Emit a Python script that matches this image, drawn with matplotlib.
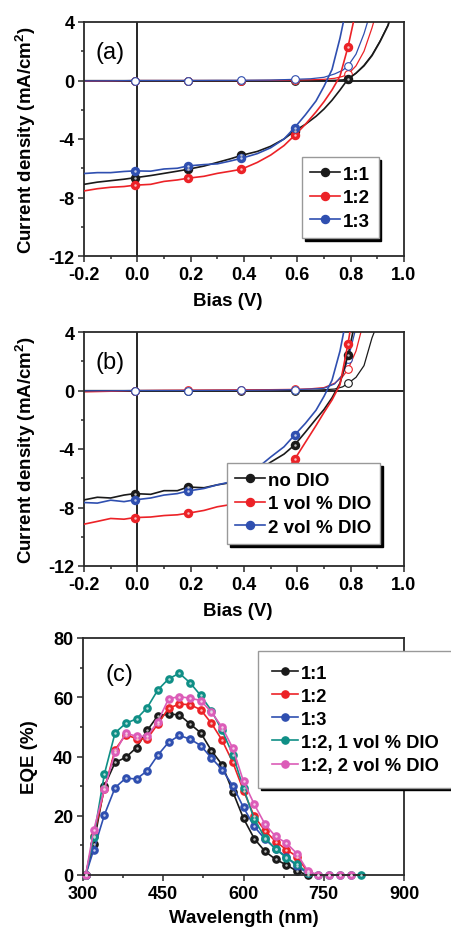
import numpy as np
import matplotlib
matplotlib.use("Agg")
import matplotlib.pyplot as plt
from matplotlib.ticker import MultipleLocator
from matplotlib.colors import to_rgb

plt.rcParams['font.family'] = ['Liberation Sans', 'DejaVu Sans']
plt.rcParams['mathtext.fontset'] = 'custom'
plt.rcParams['mathtext.rm'] = 'Liberation Sans'
plt.rcParams['mathtext.bf'] = 'Liberation Sans:bold'

# ---------------- data ----------------
# (a) J-V under illumination
V_light = [-0.2, -0.15, -0.1, -0.05, -0.01, 0.05, 0.1, 0.15, 0.19, 0.25, 0.3, 0.35, 0.39,
           0.45, 0.5, 0.55, 0.59, 0.63, 0.67, 0.7, 0.73, 0.76, 0.79, 0.82, 0.85, 0.88,
           0.91, 0.94, 0.97]
light_markers = [4, 8, 12, 16, 22]
a_11 = [-7.1, -6.95, -6.85, -6.75, -6.65, -6.5, -6.35, -6.2, -6.07, -5.85, -5.6, -5.35, -5.12,
        -4.85, -4.5, -4.0, -3.45, -3.0, -2.45, -1.95, -1.35, -0.65, 0.1, 0.5, 1.0, 1.7,
        2.65, 3.75, 5.5]
a_12 = [-7.55, -7.4, -7.3, -7.25, -7.16, -7.1, -6.9, -6.8, -6.68, -6.55, -6.35, -6.2, -6.07,
        -5.6, -5.1, -4.45, -3.75, -3.0, -2.15, -1.45, -0.65, 0.3, 2.3, 4.8, 8.0, 11.0,
        14.0, 17.0, 20.0]
a_13 = [-6.36, -6.3, -6.3, -6.22, -6.18, -6.2, -6.05, -6.0, -5.84, -5.75, -5.7, -5.5, -5.32,
        -5.0, -4.6, -4.0, -3.22, -2.35, -1.4, -0.4, 0.75, 2.9, 5.5, 8.0, 11.0, 14.0,
        17.0, 20.0, 23.0]
# (a) J-V in dark
V_dark = [-0.2, -0.1, -0.01, 0.1, 0.19, 0.3, 0.39, 0.5, 0.59, 0.65, 0.7, 0.74, 0.77, 0.79,
          0.82, 0.85, 0.88, 0.91, 0.94, 0.97]
dark_markers = [2, 4, 6, 8, 13]
a_11_dark = [0, 0, 0, 0, 0, 0, 0, 0, 0, 0, 0, 0.02, 0.05, 0.1, 0.5, 1.05, 1.75, 2.7, 3.8, 5.5]
a_12_dark = [-0.05, -0.03, 0, 0, 0, 0, 0, 0.01, 0.03, 0.05, 0.08, 0.15, 0.28, 0.42, 1.0, 2.0,
             3.6, 5.5, 8.0, 10.0]
a_13_dark = [-0.03, -0.02, 0, 0, 0, 0.01, 0.01, 0.03, 0.08, 0.12, 0.22, 0.45, 0.7, 1.0, 1.8,
             3.2, 5.0, 7.0, 9.0, 11.0]

# (b) J-V under illumination
b_no = [-7.48, -7.3, -7.35, -7.15, -7.05, -7.1, -6.85, -6.85, -6.6, -6.65, -6.45, -6.3, -6.1,
        -5.55, -4.9, -4.35, -3.72, -2.85, -1.95, -1.3, -0.5, 0.5, 2.4, 5.0, 8.0, 11.0,
        14.0, 17.0, 20.0]
b_1 = [-9.14, -8.95, -8.75, -8.8, -8.69, -8.65, -8.55, -8.5, -8.39, -8.2, -7.95, -7.8, -7.6,
       -7.2, -6.6, -5.7, -4.7, -3.55, -2.4, -1.5, -0.65, 0.4, 3.2, 6.5, 9.0, 12.0,
       15.0, 18.0, 21.0]
b_2 = [-7.66, -7.7, -7.5, -7.6, -7.48, -7.35, -7.15, -7.05, -6.87, -6.7, -6.45, -6.25, -5.85,
       -5.3, -4.55, -3.85, -3.04, -2.25, -1.35, -0.4, 0.7, 2.7, 5.5, 8.0, 11.0, 14.0,
       17.0, 20.0, 23.0]
# (b) J-V in dark
b_no_dark = [0, 0, 0, 0, 0, 0, 0, 0, 0, 0.02, 0.05, 0.1, 0.25, 0.49, 0.9, 1.7, 3.6, 5.0, 7.0, 9.0]
b_1_dark = [-0.1, -0.06, 0, 0.02, 0.03, 0.04, 0.05, 0.06, 0.08, 0.12, 0.2, 0.5, 0.95, 1.45,
            2.7, 4.8, 7.0, 9.0, 11.0, 13.0]
b_2_dark = [-0.02, -0.02, 0, 0, 0, 0.01, 0.01, 0.03, 0.06, 0.1, 0.15, 0.45, 1.1, 2.13, 4.3,
            7.0, 10.0, 12.0, 14.0, 16.0]

# (c) EQE
wavelength = [305, 320, 340, 360, 380, 400, 420, 440, 460, 480, 500, 520, 540, 560, 580,
              600, 620, 640, 660, 680, 700, 720, 740, 760, 780, 800, 820]
eqe_11 = [0, 10.4, 30, 38, 39.7, 43, 48.8, 53.8, 54.3, 54.1, 51, 48, 42, 37.2, 28.1, 19.1,
          12.3, 8.0, 5.3, 3.4, 1.3, 0]
eqe_12 = [0, 13, 29, 42.3, 47.4, 46, 46, 51, 56.3, 57.7, 57.5, 55.8, 51.2, 45.5, 38, 28.5,
          19.8, 15.0, 11.3, 8.6, 6.2, 1.0]
eqe_13 = [0, 8.5, 20.3, 29.5, 32.7, 32.4, 35.2, 40.5, 44.8, 47.1, 45.9, 43.7, 39.5, 35.6, 30.1,
          22.8, 16.4, 12.1, 8.9, 6.1, 3.0, 0.6]
eqe_12_1 = [0, 12.7, 34.1, 48, 51.2, 52.7, 56.5, 62.5, 66.2, 68.1, 64.9, 60.6, 55.5, 48.8, 40.6,
            29.3, 18.9, 12.6, 8.7, 5.9, 3.6, 0.8, 0, 0, 0, 0, 0]
eqe_12_2 = [0, 15.1, 29, 41.4, 47.9, 46.8, 46.8, 51.8, 59.5, 60.2, 59.7, 58.9, 55, 49.9, 42.8,
            31.6, 23.9, 17.2, 13.0, 10.8, 7.2, 1.4, 0, 0, 0, 0]

# ---------------- style ----------------
BLACK = '#1a1a1a'
RED = '#ec2227'
BLUE = '#2f4fb0'
TEAL = '#0f8f86'
PINK = '#dc5cb8'
BOLD = dict(family='Liberation Sans', weight='bold')
TICK_FS = 13
LABEL_FS = 13.5

W, H = 452, 929
fig = plt.figure(figsize=(W / 100, H / 100), dpi=100)


def lighten(c, f=0.6):
    r, g, b = to_rgb(c)
    return (r + (1 - r) * f, g + (1 - g) * f, b + (1 - b) * f)


def frac_rect(l, t, r, b):
    return [l / W, 1 - b / H, (r - l) / W, (b - t) / H]


def style_axes(ax):
    for s in ax.spines.values():
        s.set_linewidth(1.3)
        s.set_color('#2a2a2a')
    ax.tick_params(which='both', direction='out', top=False, right=False, width=1.1,
                   color='#2a2a2a', pad=3)
    ax.tick_params(which='major', length=4)
    ax.tick_params(which='minor', length=2.5)
    for lab in ax.get_xticklabels() + ax.get_yticklabels():
        lab.set_fontweight('bold')
        lab.set_fontsize(TICK_FS)
        lab.set_family('Liberation Sans')


def highlight(ax, x, y, c, idx=None, z=4, clip=True):
    xs = np.asarray(x, float)
    ys = np.asarray(y, float)
    if idx is not None:
        xs, ys = xs[idx], ys[idx]
    ax.plot(xs, ys, ls='none', marker='o', ms=1.8, mfc=lighten(c, 0.7), mec='none',
            zorder=z, clip_on=clip)


def jv_panel(ax, light, dark, colors, labels, tag, xlab_x):
    ax.axhline(0, color='black', lw=1.2, zorder=1.5)
    ax.axvline(0, color='black', lw=1.2, zorder=1.5)
    for y, c in zip(dark, colors):
        ax.plot(V_dark, y, color=c, lw=0.9, marker='o', ms=5.5, mfc='white', mec=c, mew=0.8,
                markevery=dark_markers, zorder=2)
    handles = []
    for y, c, lab in zip(light, colors, labels):
        h, = ax.plot(V_light, y, color=c, lw=1.2, marker='o', ms=5.8, mfc=c, mec=c,
                     markevery=light_markers, zorder=3, label=lab)
        handles.append(h)
        highlight(ax, V_light, y, c, light_markers)
    ax.set_xlim(-0.2, 1.0)
    ax.set_ylim(-12, 4)
    ax.xaxis.set_minor_locator(MultipleLocator(0.1))
    ax.yaxis.set_minor_locator(MultipleLocator(2))
    ax.set_xticks([-0.2, 0.0, 0.2, 0.4, 0.6, 0.8, 1.0])
    ax.set_xticklabels(['-0.2', '0.0', '0.2', '0.4', '0.6', '0.8', '1.0'])
    ax.set_yticks([-12, -8, -4, 0, 4])
    ax.set_yticklabels(['-12', '-8', '-4', '0', '4'])
    ax.set_xlabel('Bias (V)', fontsize=LABEL_FS, labelpad=7, x=xlab_x, **BOLD)
    ax.set_ylabel(r'Current density (mA/cm$^{\mathbf{2}}$)', fontsize=LABEL_FS, labelpad=7,
                  **BOLD)
    ax.text(0.035, 0.87, tag, transform=ax.transAxes, fontsize=17, family='Liberation Sans',
            ha='left', va='center')
    style_axes(ax)
    return handles


def add_legend(ax, handles, l, t, fs=13.5, hl=1.6, spacing=0.35, bpad=0.45):
    leg = ax.legend(handles=handles, loc='upper left', bbox_to_anchor=(l / W, 1 - t / H),
                    bbox_transform=fig.transFigure, borderaxespad=0, fancybox=False,
                    shadow={'color': 'black', 'alpha': 1}, framealpha=1,
                    edgecolor='#999999', prop=dict(family='Liberation Sans', weight='bold',
                                                    size=fs),
                    handlelength=hl, handletextpad=0.15, labelspacing=spacing,
                    borderpad=bpad)
    leg.get_frame().set_linewidth(1.0)
    leg.set_zorder(10)
    return leg


axA = fig.add_axes(frac_rect(84, 23, 404, 257))
hA = jv_panel(axA, [a_11, a_12, a_13], [a_11_dark, a_12_dark, a_13_dark],
              [BLACK, RED, BLUE], ['1:1', '1:2', '1:3'], '(a)', 0.45)
add_legend(axA, hA, 302, 158)

axB = fig.add_axes(frac_rect(84, 333, 404, 567))
hB = jv_panel(axB, [b_no, b_1, b_2], [b_no_dark, b_1_dark, b_2_dark],
              [BLACK, RED, BLUE], ['no DIO', '1 vol % DIO', '2 vol % DIO'], '(b)', 0.48)
add_legend(axB, hB, 227, 464)

axC = fig.add_axes(frac_rect(83, 639, 404, 876))
hC = []
for y, c, lab in zip([eqe_11, eqe_12, eqe_13, eqe_12_1, eqe_12_2],
                     [BLACK, RED, BLUE, TEAL, PINK],
                     ['1:1', '1:2', '1:3', '1:2, 1 vol % DIO', '1:2, 2 vol % DIO']):
    xs = wavelength[:len(y)]
    h, = axC.plot(xs, y, color=c, lw=1.2, marker='o', ms=5.2, mfc=c, mec=c,
                  label=lab, clip_on=False)
    hC.append(h)
    highlight(axC, xs, y, c, clip=False)
axC.set_xlim(300, 900)
axC.set_ylim(0, 80)
axC.xaxis.set_major_locator(MultipleLocator(150))
axC.xaxis.set_minor_locator(MultipleLocator(75))
axC.yaxis.set_major_locator(MultipleLocator(20))
axC.yaxis.set_minor_locator(MultipleLocator(10))
axC.set_xlabel('Wavelength (nm)', fontsize=LABEL_FS, labelpad=5, **BOLD)
axC.set_ylabel('EQE (%)', fontsize=LABEL_FS, labelpad=11, **BOLD)
axC.text(0.07, 0.85, '(c)', transform=axC.transAxes, fontsize=17, family='Liberation Sans',
         ha='left', va='center')
style_axes(axC)
add_legend(axC, hC, 258, 652, fs=13.2, hl=1.45, spacing=0.33, bpad=0.75)

fig.savefig('out.png', dpi=100)
